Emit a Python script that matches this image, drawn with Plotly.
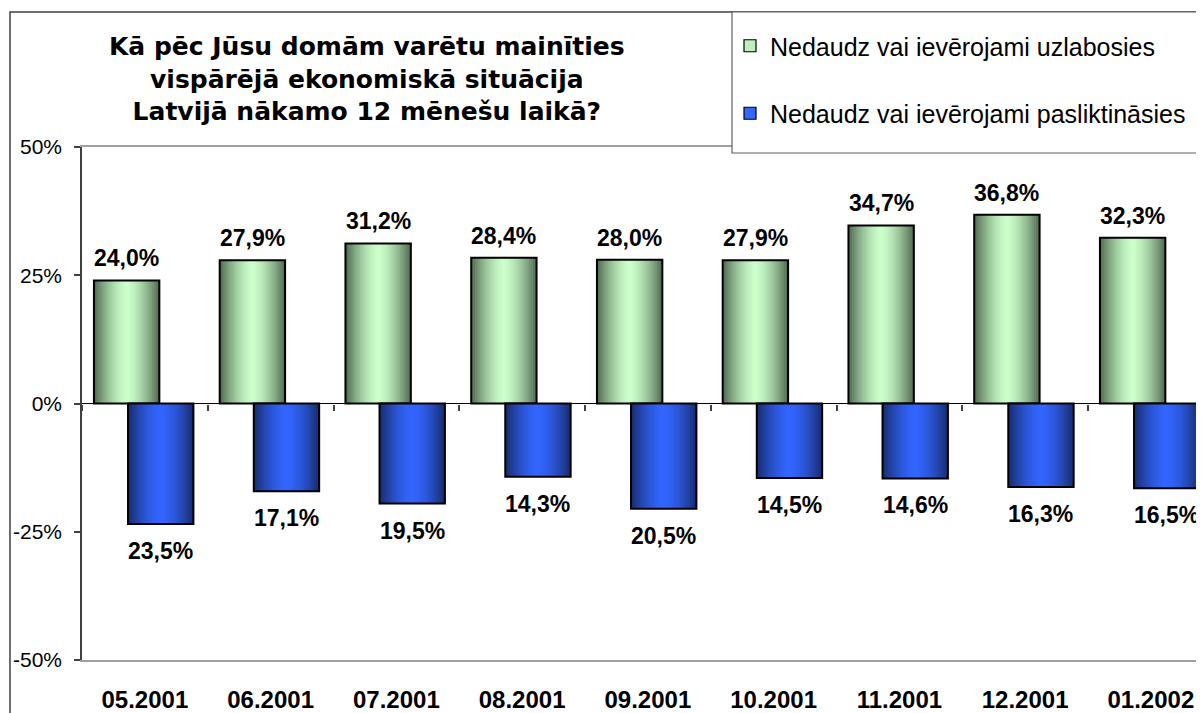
import plotly.graph_objects as go

# ---- data ----
categories = ["05.2001", "06.2001", "07.2001", "08.2001", "09.2001",
              "10.2001", "11.2001", "12.2001", "01.2002"]
improve = [24.0, 27.9, 31.2, 28.4, 28.0, 27.9, 34.7, 36.8, 32.3]
worsen = [23.5, 17.1, 19.5, 14.3, 20.5, 14.5, 14.6, 16.3, 16.5]
name_improve = "Nedaudz vai ievērojami uzlabosies"
name_worsen = "Nedaudz vai ievērojami pasliktināsies"
title_lines = ["Kā pēc Jūsu domām varētu mainīties",
               "vispārējā ekonomiskā situācija",
               "Latvijā nākamo 12 mēnešu laikā?"]
ytick_vals = [-50, -25, 0, 25, 50]
ytick_text = ["-50%", "-25%", "0%", "25%", "50%"]

FONT = "Arial, 'Liberation Sans', sans-serif"
TITLE_FONT = "'DejaVu Sans', Arial, sans-serif"
OFF = 8  # page body margin
W_FIG, H_FIG = 1204 - OFF, 713 - OFF
# plot area in page pixels: x 82..1204, y 147..660
P_L, P_R, P_T, P_B = 82, 1204, 147, 660
M_L, M_R, M_T, M_B = P_L - OFF, 1204 - P_R, P_T - OFF, 713 - P_B
PW = P_R - P_L
PH = P_B - P_T
CAT_W = 125.75
X_MAX = -0.5 + PW / CAT_W

def px_x(px):
    return (px - P_L) / PW

def px_y(py):
    return 1 + (P_T - py) / PH

def mix(c1, c2, t):
    return "rgb(%d,%d,%d)" % tuple(round(a + (b - a) * t) for a, b in zip(c1, c2))

BAR_W = 0.52
series = [
    dict(name=name_improve, y=improve, sign=1, left=-0.405, shift=22,
         edge=(84, 110, 84), center=(204, 255, 204), legend="rgb(190,240,190)"),
    dict(name=name_worsen, y=worsen, sign=-1, left=-0.134, shift=-27,
         edge=(24, 46, 115), center=(51, 102, 255), legend="rgb(51,102,255)"),
]

fig = go.Figure()
N_LAYERS = 18
for gi, s in enumerate(series):
    yv = [s["sign"] * v for v in s["y"]]
    c = s["left"] + BAR_W / 2
    # legend entry
    fig.add_trace(go.Bar(x=categories, y=[None] * len(categories), name=s["name"],
                         marker=dict(color=s["legend"], line=dict(color="black", width=1.2)),
                         legendgroup=str(gi), showlegend=True, hoverinfo="skip"))
    for i in range(N_LAYERS):
        t = 1 - i / N_LAYERS          # 1 -> outer edge
        w = BAR_W * t
        col = mix(s["center"], s["edge"], t ** 1.6)
        fig.add_trace(go.Bar(x=categories, y=yv, width=w, offset=c - w / 2,
                             marker=dict(color=col, line=dict(width=0)),
                             showlegend=False, legendgroup=str(gi), hoverinfo="skip"))
    # outline
    fig.add_trace(go.Bar(x=categories, y=yv, width=BAR_W, offset=s["left"],
                         marker=dict(color="rgba(0,0,0,0)", line=dict(color="black", width=2)),
                         showlegend=False, legendgroup=str(gi), hoverinfo="skip"))
    # labels (category index as x)
    for idx, v in enumerate(s["y"]):
        fig.add_annotation(x=idx + c, y=s["sign"] * v, xref="x", yref="y",
                           text="<b>%s%%</b>" % ("%.1f" % v).replace(".", ","),
                           showarrow=False, yshift=s["shift"],
                           font=dict(family=FONT, size=23, color="black"),
                           yanchor="middle", xanchor="center")

# dummy trace for the category tick axis at zero
fig.add_trace(go.Scatter(x=[None], y=[None], xaxis="x2", yaxis="y",
                         showlegend=False, hoverinfo="skip"))

fig.add_annotation(text="<b>" + "<br>".join(title_lines) + "</b>",
                   x=px_x(367), y=px_y(79), xref="paper", yref="paper",
                   showarrow=False, align="center", xanchor="center", yanchor="middle",
                   font=dict(family=TITLE_FONT, size=25, color="black"))

# outer frame and legend box
fig.add_shape(type="rect", xref="paper", yref="paper",
              x0=px_x(10), y0=px_y(760), x1=px_x(1260), y1=px_y(12),
              line=dict(color="#404040", width=1.5), fillcolor="rgba(0,0,0,0)", layer="above")
fig.add_shape(type="rect", xref="paper", yref="paper",
              x0=px_x(732), y0=px_y(153), x1=px_x(1200), y1=px_y(12),
              line=dict(color="#606060", width=1.2), fillcolor="white", layer="above")

fig.update_layout(
    width=W_FIG, height=H_FIG,
    margin=dict(l=M_L, r=M_R, t=M_T, b=M_B, pad=0),
    paper_bgcolor="white", plot_bgcolor="white",
    barmode="overlay",
    showlegend=True,
    legend=dict(x=px_x(730), y=px_y(23), xanchor="left", yanchor="top",
                bgcolor="rgba(0,0,0,0)", borderwidth=0,
                font=dict(family=FONT, size=25, color="black"),
                tracegroupgap=32, traceorder="grouped"),
    xaxis=dict(type="category", range=[-0.5, X_MAX], showgrid=False,
               showline=True, linecolor="#a0a0a0", linewidth=1.5, mirror=True,
               ticks="", ticklabelstandoff=17,
               tickfont=dict(family=FONT, size=24, color="black"),
               tickprefix="<b>", ticksuffix="</b>", zeroline=False),
    xaxis2=dict(overlaying="x", anchor="free", position=0.5, range=[-0.5, X_MAX],
                tickvals=[k - 0.5 for k in range(len(categories) + 1)],
                ticks="outside", ticklen=6, tickcolor="#404040", tickwidth=1.5,
                showticklabels=False, showgrid=False, showline=False, zeroline=False),
    yaxis=dict(range=[-50, 50], tickvals=ytick_vals, ticktext=ytick_text,
               showgrid=False, showline=True, linecolor="#404040", linewidth=1.5,
               ticks="outside", ticklen=6, tickcolor="#404040", tickwidth=1.5,
               ticklabelstandoff=8,
               tickfont=dict(family=FONT, size=21, color="black"),
               zeroline=True, zerolinecolor="black", zerolinewidth=1.2),
)

fig.write_html("out.html")
